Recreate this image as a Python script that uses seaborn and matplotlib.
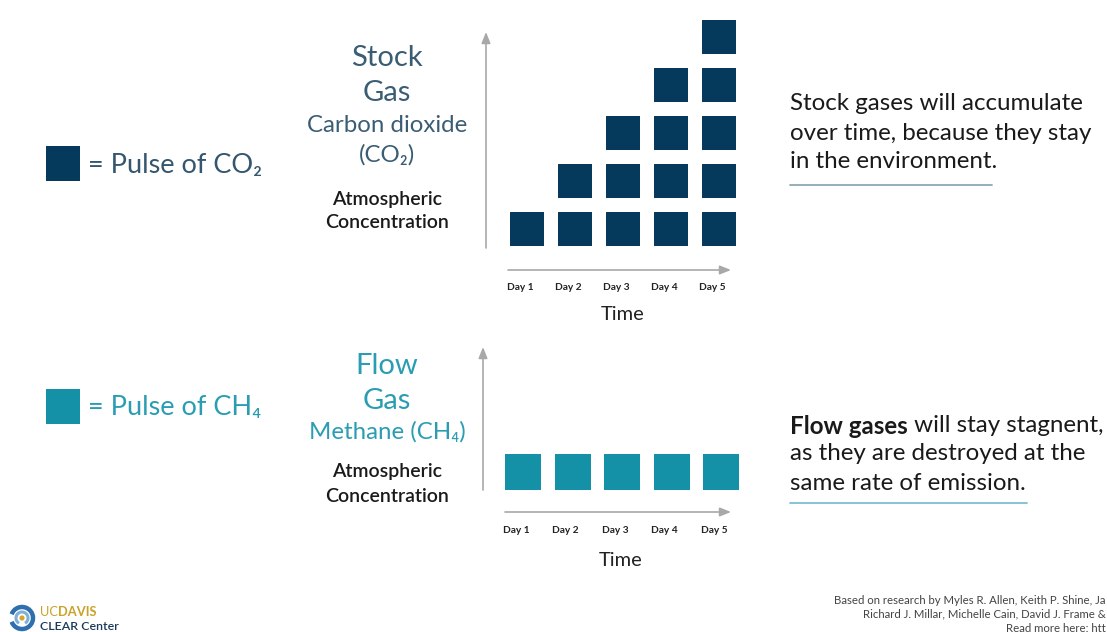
import numpy as np
import pandas as pd
import matplotlib
matplotlib.use("Agg")
import matplotlib.pyplot as plt
from matplotlib.patches import Rectangle, Circle, Arc
from matplotlib.transforms import ScaledTranslation
import seaborn as sns

# ---- data -------------------------------------------------------------
days = ["Day 1", "Day 2", "Day 3", "Day 4", "Day 5"]
co2_pulses = [1, 2, 3, 4, 5]      # stock gas: pulses accumulate day by day
ch4_pulses = [1, 1, 1, 1, 1]      # flow gas: level stays constant

NAVY = "#063a5c"
TEAL = "#1491a6"
STOCK_TXT = "#3a5d74"
FLOW_TXT = "#2a9db3"
ARROW = "#a8a8a8"

W, H = 1107, 632
DPI = 100

sns.set_theme(style="white")
plt.rcParams["font.family"] = ["Lato", "DejaVu Sans"]


def stack_frame(counts):
    rows = []
    for i, n in enumerate(counts):
        for level in range(1, n + 1):
            rows.append({"pos": i, "day": days[i], "level": level})
    return pd.DataFrame(rows)


fig = plt.figure(figsize=(W / DPI, H / DPI), dpi=DPI)
fig.patch.set_facecolor("white")

# full-figure overlay in pixel units (origin top-left) for annotations
ov = fig.add_axes([0, 0, 1, 1])
ov.set_xlim(0, W)
ov.set_ylim(H, 0)
ov.axis("off")
ov.patch.set_visible(False)


def pulse_axes(left, top, cell_w, cell_h, nlev):
    """Axes whose unit cells are cell_w x cell_h pixels."""
    width = cell_w * 5
    height = cell_h * nlev
    ax = fig.add_axes([left / W, 1 - (top + height) / H, width / W, height / H])
    ax.set_xlim(-0.5, 4.5)
    ax.set_ylim(0.5, nlev + 0.5)
    ax.patch.set_alpha(0)
    for sp in ax.spines.values():
        sp.set_visible(False)
    return ax


def finish_ticks(ax):
    ax.set_yticks([])
    ax.set_xticks(range(len(days)), days)
    ax.tick_params(axis="x", length=0, pad=21.5)
    ax.set_xlabel("")
    ax.set_ylabel("")
    shift = ScaledTranslation(-7 / DPI, 0, fig.dpi_scale_trans)
    for lab in ax.get_xticklabels():
        lab.set_fontsize(7.3)
        lab.set_fontweight("bold")
        lab.set_color("#222222")
        lab.set_transform(lab.get_transform() + shift)


# ---- stock gas (CO2) --------------------------------------------------
ax1 = pulse_axes(503, 13, 48, 48, 5)
df_co2 = stack_frame(co2_pulses)
sns.scatterplot(data=df_co2, x="pos", y="level", marker="s",
                s=(34 * 72 / DPI) ** 2, color=NAVY, linewidth=0,
                legend=False, ax=ax1)
finish_ticks(ax1)

# ---- flow gas (CH4) ---------------------------------------------------
ax2 = pulse_axes(498.25, 446.75, 49.5, 49.5, 1)
df_ch4 = stack_frame(ch4_pulses)
sns.scatterplot(data=df_ch4, x="pos", y="level", marker="s",
                s=(36 * 72 / DPI) ** 2, color=TEAL, linewidth=0,
                legend=False, ax=ax2)
finish_ticks(ax2)

# ---- axis arrows --------------------------------------------------------
def arrow(x0, y0, x1, y1):
    ov.annotate("", xy=(x1, y1), xytext=(x0, y0),
                arrowprops=dict(arrowstyle="-|>,head_length=0.55,head_width=0.22",
                                color=ARROW, lw=1.2, shrinkA=0, shrinkB=0))


arrow(486, 248, 486, 32)
arrow(508, 270, 731, 270)
arrow(483, 490, 483, 347)
arrow(505, 512, 731, 512)

ov.text(623, 315, "Time", ha="center", va="center", fontsize=14.5, color="#222222")
ov.text(621, 561, "Time", ha="center", va="center", fontsize=14.5, color="#222222")

# ---- centre titles ------------------------------------------------------
title = dict(ha="center", va="center", fontweight="normal")
ov.text(387, 58, "Stock", fontsize=21, color=STOCK_TXT, **title)
ov.text(387, 93, "Gas", fontsize=21, color=STOCK_TXT, **title)
ov.text(387, 125, "Carbon dioxide", fontsize=17.3, color=STOCK_TXT, **title)
ov.text(387, 155, "(CO₂)", fontsize=17.3, color=STOCK_TXT, **title)
sub = dict(ha="center", va="center", fontsize=14, fontweight="semibold", color="#1a1a1a")
ov.text(387, 200, "Atmospheric", **sub)
ov.text(387, 223, "Concentration", **sub)

ov.text(387, 366, "Flow", fontsize=21, color=FLOW_TXT, **title)
ov.text(387, 401, "Gas", fontsize=21, color=FLOW_TXT, **title)
ov.text(387, 432, "Methane (CH₄)", fontsize=17.3, color=FLOW_TXT, **title)
ov.text(387, 472, "Atmospheric", **sub)
ov.text(387, 496, "Concentration", **sub)

# ---- left legend keys ---------------------------------------------------
ov.add_patch(Rectangle((46, 146), 34, 35, facecolor=NAVY, edgecolor="none"))
ov.text(88, 165, "= Pulse of CO₂", ha="left", va="center", fontsize=19.5,
        color="#34566e")
ov.add_patch(Rectangle((46, 389), 34, 35, facecolor=TEAL, edgecolor="none"))
ov.text(88, 408, "= Pulse of CH₄", ha="left", va="center", fontsize=19.5,
        color=FLOW_TXT)

# ---- right explanations -------------------------------------------------
body = dict(ha="left", va="center", fontsize=17.4, color="#1a1a1a")
for y, line in zip([104, 133, 162],
                   ["Stock gases will accumulate",
                    "over time, because they stay",
                    "in the environment."]):
    ov.text(790, y, line, **body)
ov.plot([790, 992], [185, 185], color="#8ea7b5", lw=1.3)

bold = ov.text(790, 426, "Flow gases", fontweight="bold", **body)
ov.annotate(" will stay stagnent,", xy=(1, 0.5), xycoords=bold, **body)
for y, line in zip([454, 483],
                   ["as they are destroyed at the",
                    "same rate of emission."]):
    ov.text(790, y, line, **body)
ov.plot([790, 1027], [503, 503], color="#7dbfd0", lw=1.3)

# ---- footer -------------------------------------------------------------
foot = dict(ha="right", va="center", fontsize=8.2, color="#444444")
ov.text(W - 1, 600, "Based on research by Myles R. Allen, Keith P. Shine, Ja", **foot)
ov.text(W - 1, 614, "Richard J. Millar, Michelle Cain, David J. Frame &", **foot)
ov.text(W - 1, 628, "Read more here: htt", **foot)

# logo
ov.add_patch(Arc((22, 618), 22, 22, theta1=200, theta2=520, color="#2f6fad", lw=3.2))
ov.add_patch(Arc((22, 618), 12, 12, theta1=120, theta2=420, color="#7fb0dc", lw=2.2))
ov.add_patch(Circle((22, 618), 2.6, facecolor="#d4a72c", edgecolor="none"))
ucd = ov.text(40, 612, "UC", ha="left", va="center", fontsize=9.3, color="#c9a227")
ov.annotate("DAVIS", xy=(1, 0.5), xycoords=ucd, ha="left", va="center",
            fontsize=9.3, fontweight="bold", color="#c9a227")
ov.text(40, 626, "CLEAR Center", ha="left", va="center", fontsize=8.9,
        fontweight="semibold", color="#1a3a5a")

fig.savefig("out.png", dpi=DPI, facecolor="white")
